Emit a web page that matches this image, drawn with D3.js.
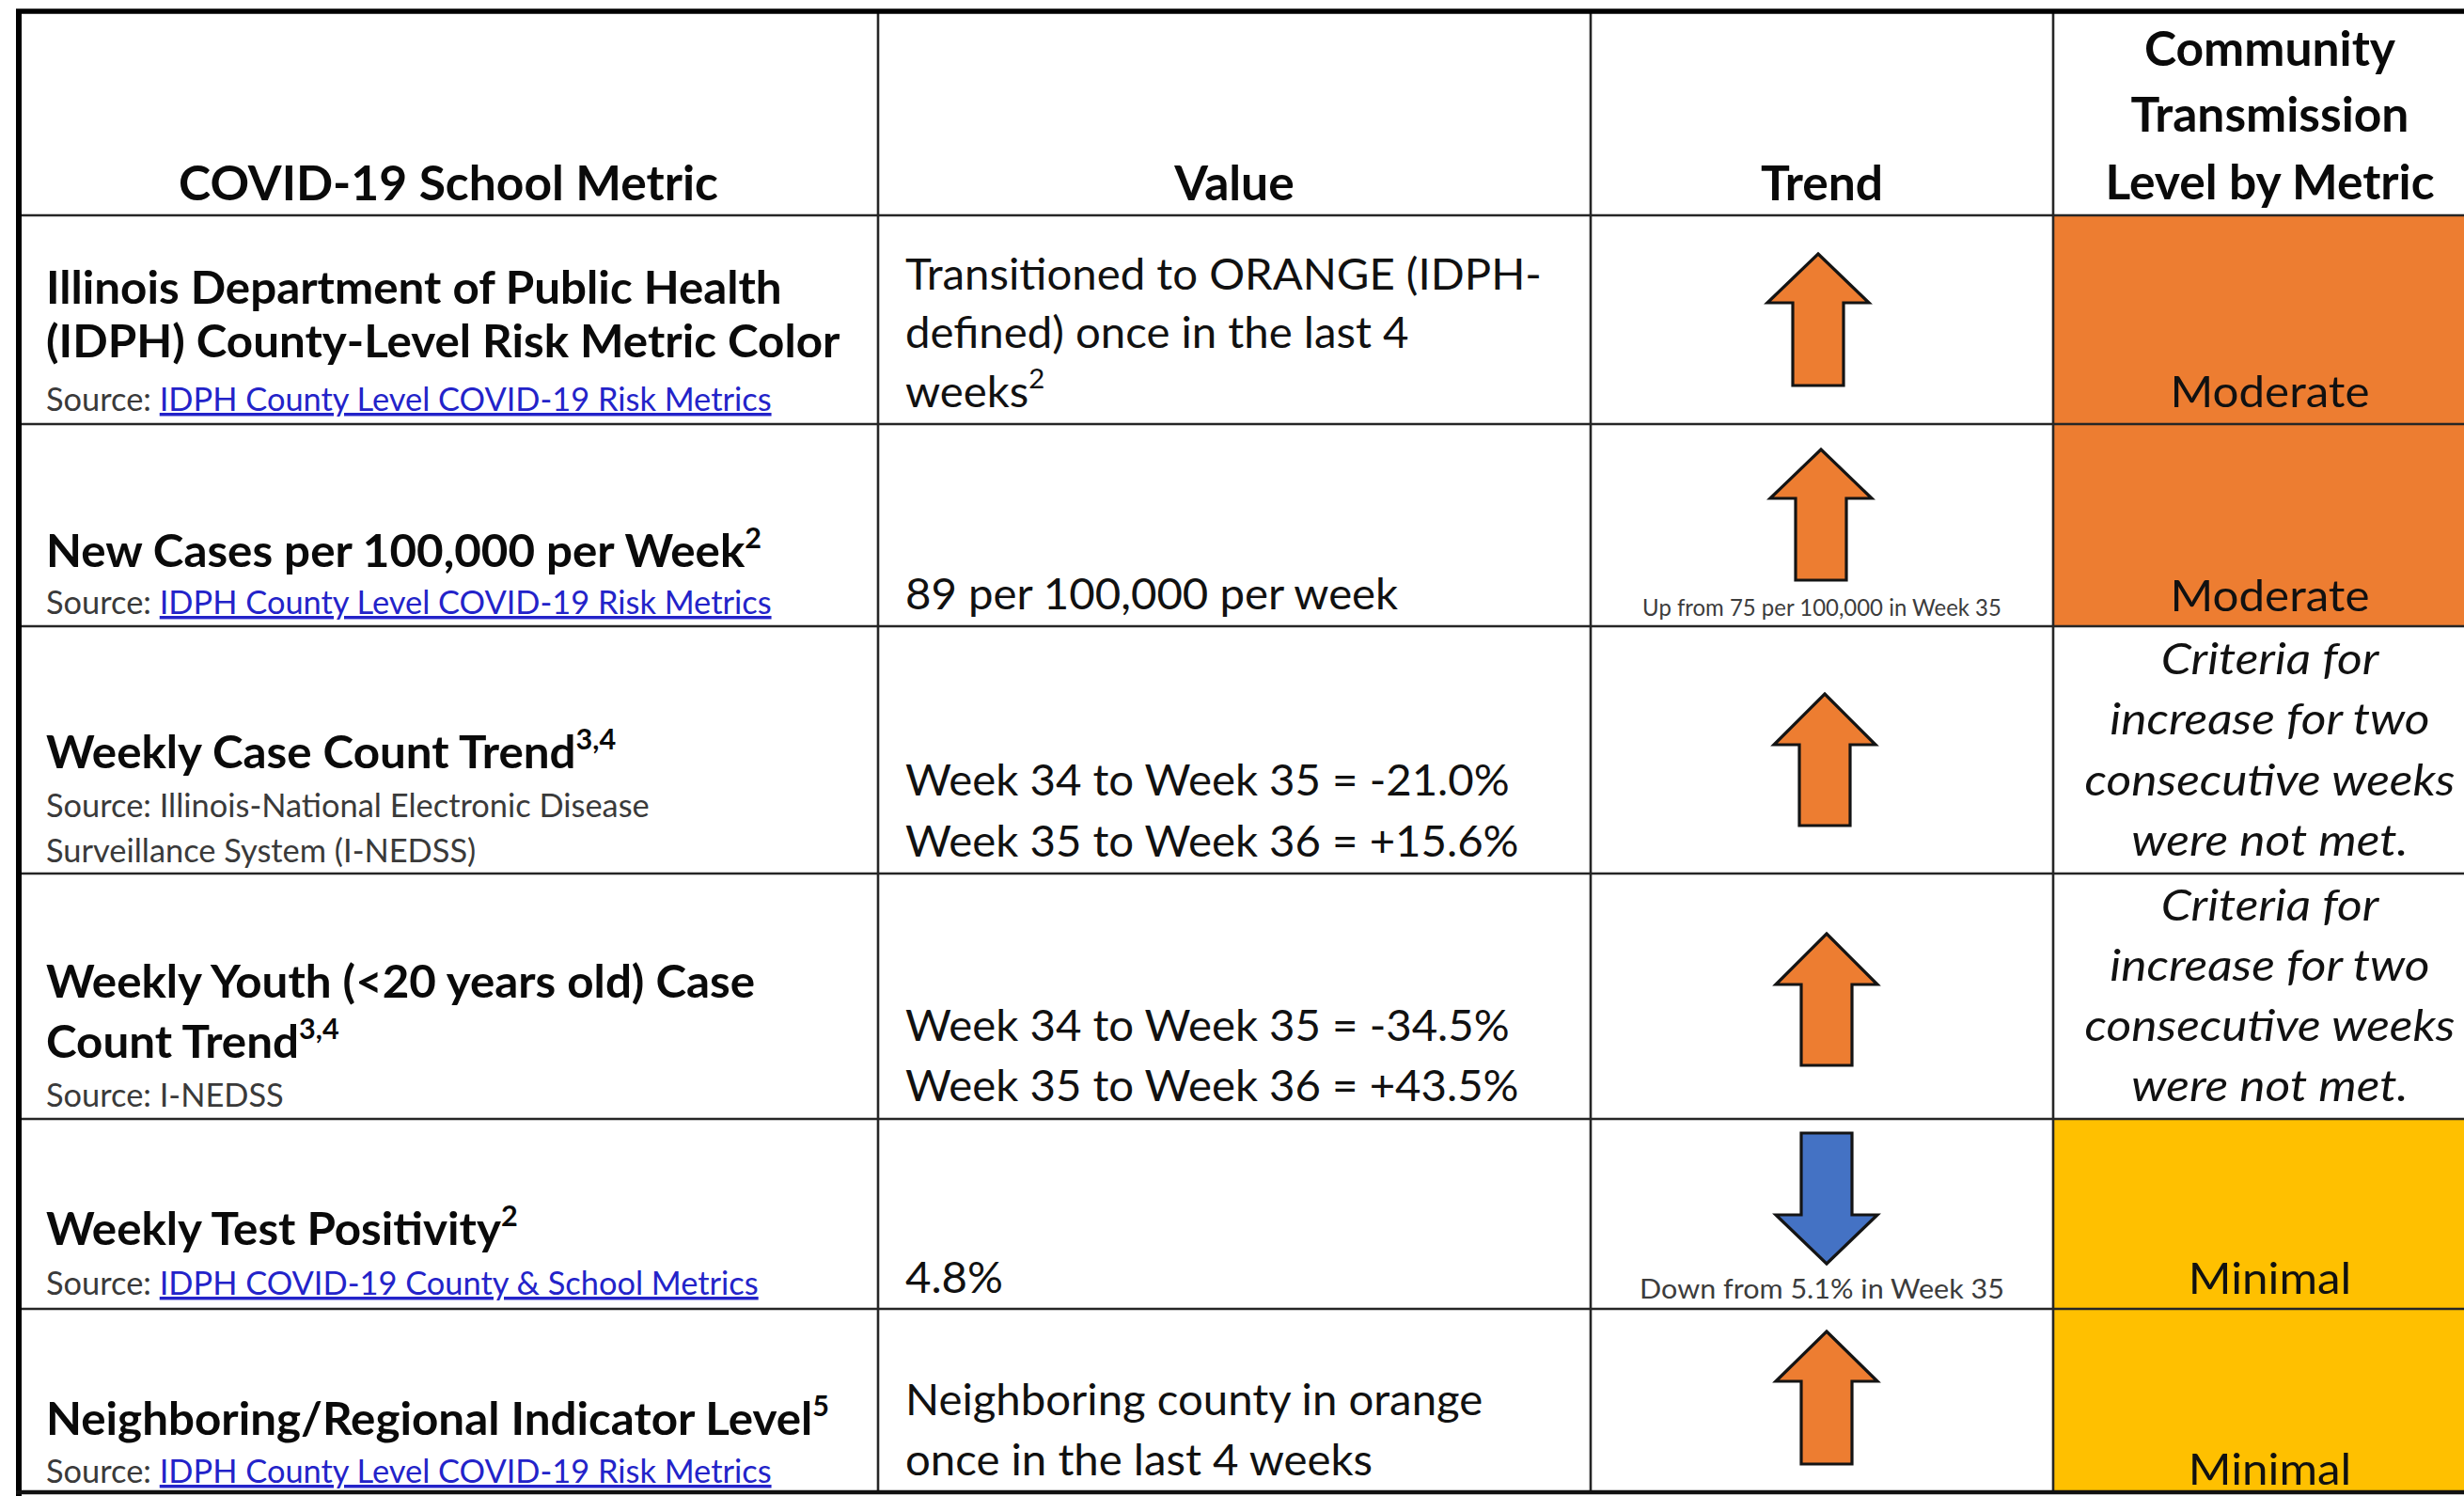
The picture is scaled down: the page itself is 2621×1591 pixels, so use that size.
<!DOCTYPE html>
<html><head><meta charset="utf-8">
<script src="https://cdn.jsdelivr.net/npm/d3@7"></script>
<style>html,body{margin:0;padding:0;background:#fff;overflow:hidden}svg{display:block}</style>
</head><body>
<svg id="chart" width="2621" height="1591"></svg>
<script>
// ---------------- DATA ----------------
const headerLabels = [["COVID-19 School Metric"], ["Value"], ["Trend"], ["Community", "Transmission", "Level by Metric"]];
const metricTitles = [
  ["Illinois Department of Public Health", "(IDPH) County-Level Risk Metric Color"],
  ["New Cases per 100,000 per Week^2"],
  ["Weekly Case Count Trend^3,4"],
  ["Weekly Youth (<20 years old) Case", "Count Trend^3,4"],
  ["Weekly Test Positivity^2"],
  ["Neighboring/Regional Indicator Level^5"]
];
const metricSources = [
  ["Source: [IDPH County Level COVID-19 Risk Metrics]"],
  ["Source: [IDPH County Level COVID-19 Risk Metrics]"],
  ["Source: Illinois-National Electronic Disease", "Surveillance System (I-NEDSS)"],
  ["Source: I-NEDSS"],
  ["Source: [IDPH COVID-19 County & School Metrics]"],
  ["Source: [IDPH County Level COVID-19 Risk Metrics]"]
];
const valueLines = [
  ["Transitioned to ORANGE (IDPH-", "defined) once in the last 4", "weeks^2"],
  ["89 per 100,000 per week"],
  ["Week 34 to Week 35 = -21.0%", "Week 35 to Week 36 = +15.6%"],
  ["Week 34 to Week 35 = -34.5%", "Week 35 to Week 36 = +43.5%"],
  ["4.8%"],
  ["Neighboring county in orange", "once in the last 4 weeks"]
];
const trendDirections = ["up", "up", "up", "up", "down", "up"];
const trendNotes = ["", "Up from 75 per 100,000 in Week 35", "", "", "Down from 5.1% in Week 35", ""];
const levelCategory = ["Moderate", "Moderate", "NotMet", "NotMet", "Minimal", "Minimal"];
const levelLines = [
  ["Moderate"], ["Moderate"],
  ["Criteria for", "increase for two", "consecutive weeks", "were not met."],
  ["Criteria for", "increase for two", "consecutive weeks", "were not met."],
  ["Minimal"], ["Minimal"]
];

// ---------------- LAYOUT ----------------
const W = 2621, H = 1591;
const L = {
  colEdges: [20, 934, 1692, 2184, 2645],
  rowEdges: [12, 229, 451, 666, 929, 1190, 1392, 1587],
  pad: 29,
  headerBase: [[213], [213], [213], [70, 140, 212]],
  titleBase: [[323, 380], [603], [817], [1061, 1125], [1324], [1526]],
  sourceBase: [[437], [653], [869, 917], [1177], [1377], [1577]],
  valueBase: [[308, 370, 433], [648], [846, 911], [1107, 1171], [1375], [1505, 1569]],
  levelBase: [[433], [650], [717, 781, 846, 910], [979, 1043, 1107, 1171], [1376], [1579]],
  arrowCx: [1934, 1937, 1941, 1943, 1943, 1943],
  arrowTail: [410, 617, 878, 1133, 1205, 1557],
  arrowBase: [322, 530, 792, 1047, 1292, 1469],
  arrowTip: [270, 478, 738, 993, 1344, 1416],
  headHalf: 54, shaftHalf: 27,
  noteBase: [0, 655, 0, 0, 1381, 0],
  noteWidth: [0, 382, 0, 0, 388, 0],
  noteSize: [0, 25, 0, 0, 29, 0]
};

const STY = {
  header: {size: 51.5, weight: 700, style: "normal", fill: "#0a0a0a", ref: "COVID-19 School Metric", target: 574},
  title:  {size: 48,   weight: 700, style: "normal", fill: "#0a0a0a", ref: "Illinois Department of Public Health", target: 783},
  value:  {size: 47,   weight: 400, style: "normal", fill: "#111", ref: "Transitioned to ORANGE (IDPH-", target: 677},
  source: {size: 34.5, weight: 400, style: "normal", fill: "#3a3a3a", ref: "Source: IDPH County Level COVID-19 Risk Metrics", target: 772},
  level:  {size: 47,   weight: 400, style: "normal", fill: "#111", ref: "Moderate", target: 212},
  italic: {size: 47,   weight: 400, style: "italic", fill: "#111", ref: "consecutive weeks", target: 394}
};
const FONT = "Lato, 'Open Sans', sans-serif";

const svg = d3.select("#chart");

function draw() {
  svg.selectAll("*").remove();
  svg.append("rect").attr("width", W).attr("height", H).attr("fill", "#fff");

  const rows = d3.range(6);
  const yTop = d3.scaleOrdinal().domain(rows).range(L.rowEdges.slice(1, 7));
  const yBot = d3.scaleOrdinal().domain(rows).range(L.rowEdges.slice(2, 8));
  const cols = ["metric", "value", "trend", "level"];
  const xLeft = d3.scaleOrdinal().domain(cols).range(L.colEdges.slice(0, 4));
  const xRight = d3.scaleOrdinal().domain(cols).range(L.colEdges.slice(1, 5));
  const xMid = c => (xLeft(c) + xRight(c)) / 2;
  const levelColor = d3.scaleOrdinal().domain(["Moderate", "Minimal", "NotMet"]).range(["#ED7D31", "#FFC000", "#FFFFFF"]);

  function styleText(sel, s) {
    sel.attr("font-family", FONT).attr("font-size", s.size).attr("font-weight", s.weight)
       .attr("font-style", s.style).attr("fill", s.fill);
  }
  function measure(s, str) {
    const t = svg.append("text").call(styleText, s).text(str);
    const w = t.node().getComputedTextLength();
    t.remove();
    return w;
  }
  const ratio = {};
  Object.keys(STY).forEach(k => { ratio[k] = STY[k].target / measure(STY[k], STY[k].ref); });

  function addLine(g, str, x, y, key, anchor, r) {
    const s = STY[key];
    const t = g.append("text").attr("x", x).attr("y", y).attr("text-anchor", anchor).call(styleText, s);
    let main = str, sup = null;
    const ci = str.indexOf("^");
    if (ci >= 0) { main = str.slice(0, ci); sup = str.slice(ci + 1); }
    const m = main.match(/^(.*?)\[(.+)\](.*)$/);
    if (m) {
      t.append("tspan").text(m[1]);
      t.append("tspan").text(m[2]).attr("fill", "#2323c9").style("text-decoration", "underline");
      if (m[3]) t.append("tspan").text(m[3]);
    } else {
      t.append("tspan").text(main);
    }
    if (sup) t.append("tspan").text(sup).attr("font-size", s.size * 0.62).attr("dy", -s.size * 0.42);
    const k = r || ratio[key];
    t.attr("transform", `translate(${x},0) scale(${k},1) translate(${-x},0)`);
    return t;
  }

  // level cell fills
  svg.append("g").selectAll("rect").data(rows).join("rect")
    .attr("x", xLeft("level")).attr("y", i => yTop(i))
    .attr("width", W - xLeft("level")).attr("height", i => yBot(i) - yTop(i))
    .attr("fill", i => levelColor(levelCategory[i]));

  // grid lines
  const grid = svg.append("g").attr("stroke", "#262626");
  grid.selectAll("line.h").data(L.rowEdges.slice(1, 7)).join("line")
    .attr("x1", L.colEdges[0]).attr("x2", W).attr("y1", d => d).attr("y2", d => d).attr("stroke-width", 2.6);
  grid.selectAll("line.v").data(L.colEdges.slice(1, 4)).join("line")
    .attr("x1", d => d).attr("x2", d => d).attr("y1", L.rowEdges[0]).attr("y2", L.rowEdges[7]).attr("stroke-width", 2.6);
  // outer border
  grid.append("line").attr("x1", L.colEdges[0] - 3).attr("x2", W).attr("y1", L.rowEdges[0]).attr("y2", L.rowEdges[0]).attr("stroke-width", 5.5).attr("stroke", "#000");
  grid.append("line").attr("x1", L.colEdges[0]).attr("x2", L.colEdges[0]).attr("y1", L.rowEdges[0] - 2).attr("y2", H).attr("stroke-width", 6).attr("stroke", "#000");
  grid.append("line").attr("x1", L.colEdges[0] - 3).attr("x2", W).attr("y1", L.rowEdges[7]).attr("y2", L.rowEdges[7]).attr("stroke-width", 4.5).attr("stroke", "#111");

  const txt = svg.append("g");
  // header
  cols.forEach((c, ci) => {
    headerLabels[ci].forEach((ln, li) => addLine(txt, ln, xMid(c), L.headerBase[ci][li], "header", "middle"));
  });

  rows.forEach(i => {
    metricTitles[i].forEach((ln, li) => addLine(txt, ln, xLeft("metric") + L.pad, L.titleBase[i][li], "title", "start"));
    metricSources[i].forEach((ln, li) => addLine(txt, ln, xLeft("metric") + L.pad, L.sourceBase[i][li], "source", "start"));
    valueLines[i].forEach((ln, li) => addLine(txt, ln, xLeft("value") + L.pad, L.valueBase[i][li], "value", "start"));
    const lk = levelCategory[i] === "NotMet" ? "italic" : "level";
    levelLines[i].forEach((ln, li) => addLine(txt, ln, xMid("level"), L.levelBase[i][li], lk, "middle"));
    if (trendNotes[i]) {
      const ns = {size: L.noteSize[i], weight: 400, style: "normal", fill: "#3c3c3c"};
      STY["note" + i] = ns;
      const w = measure(ns, trendNotes[i]);
      addLine(txt, trendNotes[i], xMid("trend"), L.noteBase[i], "note" + i, "middle", L.noteWidth[i] / w);
    }
  });

  // arrows
  const arrowLine = d3.line().curve(d3.curveLinearClosed);
  function arrowPoints(i) {
    const cx = L.arrowCx[i], hw = L.headHalf, sw = L.shaftHalf;
    const tail = L.arrowTail[i], base = L.arrowBase[i], tip = L.arrowTip[i];
    return [[cx, tip], [cx + hw, base], [cx + sw, base], [cx + sw, tail], [cx - sw, tail], [cx - sw, base], [cx - hw, base]];
  }
  const arrowColor = d3.scaleOrdinal().domain(["up", "down"]).range(["#ED7D31", "#4472C4"]);
  svg.append("g").selectAll("path").data(rows).join("path")
    .attr("d", i => arrowLine(arrowPoints(i)))
    .attr("fill", i => arrowColor(trendDirections[i]))
    .attr("stroke", "#141414").attr("stroke-width", 3.2).attr("stroke-linejoin", "miter");
}

if (document.fonts && document.fonts.ready) {
  draw();
  document.fonts.ready.then(draw);
} else draw();
</script>
</body></html>
